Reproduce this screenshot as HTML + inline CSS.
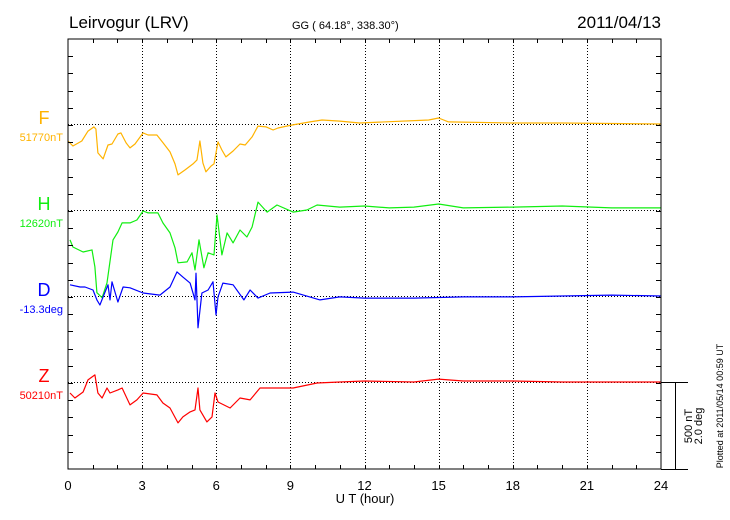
<!DOCTYPE html>
<html><head><meta charset="utf-8"><style>
body{margin:0;background:#fff;}
svg{display:block;font-family:"Liberation Sans",sans-serif;}
</style></head><body>
<svg id="chart" width="730" height="520" viewBox="0 0 730 520">
<text x="69" y="28" font-size="17">Leirvogur (LRV)</text>
<text x="292" y="29" font-size="11">GG ( 64.18°, 338.30°)</text>
<text x="661" y="28" font-size="17" text-anchor="end">2011/04/13</text>
<g id="grid"></g>
<g id="series"></g>
<g id="axes"></g>
<rect x="68" y="39" width="593" height="430" fill="none" stroke="#000" stroke-width="1"/>
<text x="365" y="503" font-size="13" text-anchor="middle">U T (hour)</text>
<g>
<line x1="661" y1="382.5" x2="688" y2="382.5" stroke="#000"/>
<line x1="661" y1="469.5" x2="688" y2="469.5" stroke="#000"/>
<line x1="675.5" y1="382" x2="675.5" y2="469" stroke="#000"/>
<text transform="translate(692,426) rotate(-90)" font-size="11" text-anchor="middle">500 nT</text>
<text transform="translate(702,426) rotate(-90)" font-size="11" text-anchor="middle">2.0 deg</text>
</g>
<text transform="translate(723,406) rotate(-90)" font-size="9" text-anchor="middle">Plotted at 2011/05/14 00:59 UT</text>
</svg>
<script>
const xTicks=[0,3,6,9,12,15,18,21,24];
const fHours=[0,0.2,0.56,0.81,1.05,1.13,1.21,1.42,1.62,1.78,2.02,2.14,2.35,2.51,2.71,3.04,3.24,3.6,3.85,4.13,4.33,4.45,4.74,5.06,5.22,5.34,5.46,5.58,5.79,5.91,6.07,6.23,6.39,6.68,6.96,7.17,7.45,7.69,8.02,8.3,8.5,9.07,9.8,10.28,11,11.8,14.6,15,15.4,18,20,24];
const fValues=[-99,-128,-99,-41,-17,-29,-168,-203,-122,-116,-58,-52,-110,-139,-116,-52,-64,-64,-110,-162,-232,-296,-267,-232,-209,-99,-226,-278,-244,-232,-104,-151,-191,-157,-116,-122,-75,-12,-17,-35,-23,-6,12,23,17,6,23,35,12,6,6,0];
const hHours=[0.08,0.2,0.61,0.97,1.09,1.17,1.38,1.58,1.82,2.02,2.19,2.51,2.79,3.04,3.24,3.64,3.84,4.13,4.33,4.45,4.82,5.02,5.14,5.3,5.5,5.67,5.91,6.03,6.23,6.44,6.68,6.96,7.24,7.45,7.69,8.06,8.46,9.11,9.67,10.08,11,12,13,14,15,16,18,20,22,24];
const hValues=[-174,-215,-244,-232,-331,-481,-510,-423,-174,-128,-75,-75,-58,-6,-17,-17,-75,-133,-220,-307,-302,-249,-348,-174,-336,-249,-261,-29,-261,-133,-191,-116,-157,-99,46,-12,29,-12,0,29,17,23,12,17,35,12,17,23,12,12];
const dHours=[0.08,0.49,0.69,1.01,1.17,1.29,1.42,1.62,1.7,1.78,2.02,2.23,2.51,3.04,3.72,4.13,4.41,4.65,4.94,5.14,5.18,5.26,5.42,5.67,5.87,5.99,6.07,6.27,6.68,7.12,7.37,7.69,8.18,9.11,10.2,11,12,14,16,18,20,22,24];
const dValues=[0.26,0.21,0.21,0.14,-0.09,-0.21,-0.02,0.26,-0.09,0.33,-0.14,0.21,0.19,0.07,0.02,0.21,0.56,0.44,0.30,-0.09,0.53,-0.74,0.07,0.14,0.33,-0.44,-0.02,0.30,0.26,-0.09,0.14,-0.05,0.07,0.09,-0.09,-0.02,-0.05,-0.05,-0.02,-0.02,0,0.02,0];
const zHours=[0.08,0.28,0.61,0.81,1.09,1.21,1.38,1.58,1.7,2.02,2.19,2.51,2.79,3.04,3.6,3.84,4.13,4.45,4.65,4.94,5.14,5.26,5.34,5.62,5.83,5.95,6.07,6.56,6.96,7.37,7.77,8.3,9.11,10.08,11,12,14,15,16,18,20,22,24];
const zValues=[-64,-93,-58,12,41,-64,-93,-35,-64,-46,-35,-133,-104,-64,-75,-122,-151,-238,-203,-174,-162,-35,-162,-232,-203,-64,-116,-151,-93,-104,-35,-35,-35,-6,0,6,0,17,6,6,0,0,0];

const NS='http://www.w3.org/2000/svg';
const X0=68,X1=661,Y0=39,Y1=469;
function xs(h){return X0+h/24*(X1-X0);}
function ysNT(base,v){return base-v*86/500;}
function ysDeg(base,v){return base-v*86/2;}
function mk(tag,attrs,parent){const e=document.createElementNS(NS,tag);for(const k in attrs)e.setAttribute(k,attrs[k]);parent.appendChild(e);return e;}
const grid=document.getElementById('grid'),axes=document.getElementById('axes'),ser=document.getElementById('series');
xTicks.forEach(t=>{
  const x=Math.round(xs(t))+0.5;
  if(t>0&&t<24){const l=mk('line',{x1:x,y1:Y0,x2:x,y2:Y1,stroke:'#000','stroke-dasharray':'1,2'},grid);
  
  }
  const tx=mk('text',{x:xs(t),y:490,'font-size':13,'text-anchor':'middle'},axes);
  tx.textContent=t;
  
  
});
for(let h=1;h<24;h++){const x=Math.round(xs(h))+0.5;
  mk('line',{x1:x,y1:Y0,x2:x,y2:Y0+4,stroke:'#000'},axes);
  mk('line',{x1:x,y1:Y1,x2:x,y2:Y1-4,stroke:'#000'},axes);}
for(let i=1;i<25;i++){const y=Math.round(Y0+i*86/5)+0.5;
  mk('line',{x1:X0,y1:y,x2:X0+5,y2:y,stroke:'#000'},axes);
  mk('line',{x1:X1,y1:y,x2:X1-5,y2:y,stroke:'#000'},axes);}
const defs=[
 {name:'f',base:124,color:'#ffb300',hours:fHours,vals:fValues,deg:false,label:'F',sub:'51770nT'},
 {name:'h',base:210,color:'#11ee11',hours:hHours,vals:hValues,deg:false,label:'H',sub:'12620nT'},
 {name:'d',base:296,color:'#0000ff',hours:dHours,vals:dValues,deg:true,label:'D',sub:'-13.3deg'},
 {name:'z',base:382,color:'#ff0000',hours:zHours,vals:zValues,deg:false,label:'Z',sub:'50210nT'}];
defs.forEach(s=>{
  const gl=mk('line',{x1:X0,y1:s.base+0.5,x2:X1,y2:s.base+0.5,stroke:'#000','stroke-dasharray':'1,2'},grid);
  
  
  const pts=s.hours.map((h,i)=>xs(h).toFixed(1)+','+(s.deg?ysDeg(s.base,s.vals[i]):ysNT(s.base,s.vals[i])).toFixed(1)).join(' ');
  const p=mk('polyline',{points:pts,fill:'none',stroke:s.color,'stroke-width':1.2,'stroke-linejoin':'round'},ser);
  
  
  const t=mk('text',{x:44,y:s.base,'font-size':18,'text-anchor':'middle',fill:s.color},axes);
  t.textContent=s.label;
  
  
  const t2=mk('text',{x:63,y:s.base+17,'font-size':11,'text-anchor':'end',fill:s.color},axes);
  t2.textContent=s.sub;
  
  
});
</script>
</body></html>
